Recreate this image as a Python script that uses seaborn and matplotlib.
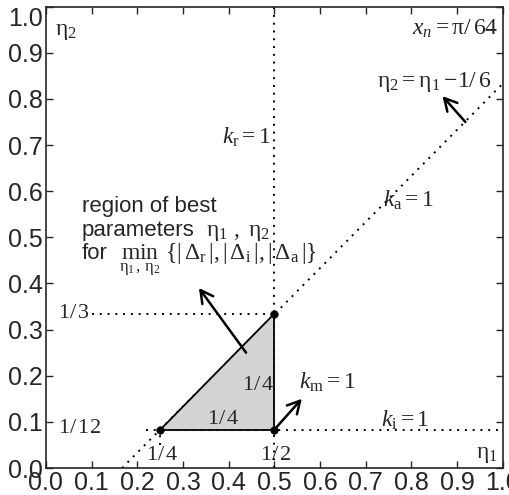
import numpy as np
import pandas as pd
import matplotlib
matplotlib.use("Agg")
import matplotlib.pyplot as plt
import seaborn as sns

# data
tri_x = [0.25, 0.5, 0.5]
tri_y = [1 / 12, 1 / 12, 1 / 3]
ka_x = [1 / 6, 1.0]            # eta2 = eta1 - 1/6
ka_y = [0.0, 5 / 6]
kr_x = [0.5, 0.5]
kr_y = [0.0, 1.0]
ki_x = [0.22, 1.0]
ki_y = [1 / 12, 1 / 12]
third_x = [0.1, 0.5]
third_y = [1 / 3, 1 / 3]
quarter_x = [0.25, 0.25]
quarter_y = [0.05, 1 / 12]
ticks = [0.0, 0.1, 0.2, 0.3, 0.4, 0.5, 0.6, 0.7, 0.8, 0.9, 1.0]

sns.set_style("ticks")
plt.rcParams["font.family"] = ["Liberation Sans", "DejaVu Sans"]
plt.rcParams["mathtext.fontset"] = "custom"
plt.rcParams["mathtext.rm"] = "Liberation Serif"
plt.rcParams["mathtext.it"] = "Liberation Serif:italic"

fig = plt.figure(figsize=(5.1, 4.95), dpi=100)
ax = fig.add_axes([0.09, 0.0545, 0.896, 0.932])

dot = dict(color="black", linestyle=(0, (1, 3)), linewidth=1.4, ax=ax,
           legend=False, estimator=None, sort=False)
sns.lineplot(x=ka_x, y=ka_y, **dot)
sns.lineplot(x=kr_x, y=kr_y, **dot)
sns.lineplot(x=ki_x, y=ki_y, **dot)
sns.lineplot(x=third_x, y=third_y, **dot)
sns.lineplot(x=quarter_x, y=quarter_y, **dot)

ax.fill(tri_x, tri_y, facecolor="#d3d3d3", edgecolor="black", linewidth=1.3, zorder=3)
sns.scatterplot(x=tri_x, y=tri_y, color="black", s=30, ax=ax, zorder=4, edgecolor="black")

arr = dict(arrowstyle="->,head_length=0.55,head_width=0.3", color="black", lw=1.8,
           mutation_scale=16, shrinkA=0, shrinkB=0)
ax.annotate("", xy=(0.335, 0.39), xytext=(0.438, 0.25), arrowprops=arr)
ax.annotate("", xy=(0.56, 0.15), xytext=(0.5, 1 / 12), arrowprops=arr)
ax.annotate("", xy=(0.868, 0.806), xytext=(0.918, 0.75), arrowprops=arr)

fs = 17
ax.text(0.02, 0.948, r"$\mathrm{\eta}_2$", fontsize=fs, va="center")
ax.text(0.99, 0.952, r"$x_n = \mathrm{\pi}/\,64$", fontsize=fs, ha="right", va="center")
ax.text(0.975, 0.837, r"$\mathrm{\eta}_2 = \mathrm{\eta}_1 -\!1/\,6$", fontsize=fs, ha="right", va="center")
ax.text(0.492, 0.717, r"$k_\mathrm{r} = 1$", fontsize=fs, ha="right", va="center")
ax.text(0.738, 0.58, r"$k_\mathrm{a} = 1$", fontsize=fs, ha="left", va="center")
ax.text(0.553, 0.185, r"$k_\mathrm{m} = 1$", fontsize=fs, ha="left", va="center")
ax.text(0.734, 0.104, r"$k_\mathrm{i} = 1$", fontsize=fs, ha="left", va="center")
ax.text(0.99, 0.03, r"$\mathrm{\eta}_1$", fontsize=fs, ha="right", va="center")

ffs = 16
ax.text(0.026, 0.337, r"$1/\,3$", fontsize=ffs, ha="left", va="center")
ax.text(0.026, 0.087, r"$1/\,12$", fontsize=ffs, ha="left", va="center",
        bbox=dict(facecolor="white", edgecolor="none", pad=0))
ax.text(0.255, 0.03, r"$1/\,4$", fontsize=ffs, ha="center", va="center")
ax.text(0.503, 0.03, r"$1/\,2$", fontsize=ffs, ha="center", va="center")
ax.text(0.388, 0.107, r"$1/\,4$", fontsize=ffs, ha="center", va="center")
ax.text(0.465, 0.18, r"$1/\,4$", fontsize=ffs, ha="center", va="center")

sfs = 16
ax.text(0.078, 0.555, "region of best", fontsize=sfs, ha="left", va="baseline")
ax.text(0.078, 0.502, "parameters", fontsize=sfs, ha="left", va="baseline")
ax.text(0.35, 0.502, r"$\mathrm{\eta}_1\ ,\ \mathrm{\eta}_2$", fontsize=fs, ha="left", va="baseline")
ax.text(0.078, 0.452, "for", fontsize=sfs, ha="left", va="baseline")
ax.text(0.161, 0.452,
        r"$\min_{\mathrm{\eta}_1,\,\mathrm{\eta}_2}\ \{|\,\Delta_\mathrm{r}\,|,|\,\Delta_\mathrm{i}\,|,|\,\Delta_\mathrm{a}\,|\}$",
        fontsize=fs, ha="left", va="baseline")

ax.set_xlim(0, 1)
ax.set_ylim(0, 1)
ax.set_xticks(ticks)
ax.set_yticks(ticks)
ax.set_xticklabels([f"{t:.1f}" for t in ticks], fontsize=18)
ax.set_yticklabels([f"{t:.1f}" for t in ticks], fontsize=18)
ax.get_yticklabels()[-1].set_va("top")
ax.tick_params(direction="in", top=True, right=True, length=5, width=1, pad=2)
for s in ax.spines.values():
    s.set_linewidth(1.2)

fig.savefig("out.png", dpi=100)
